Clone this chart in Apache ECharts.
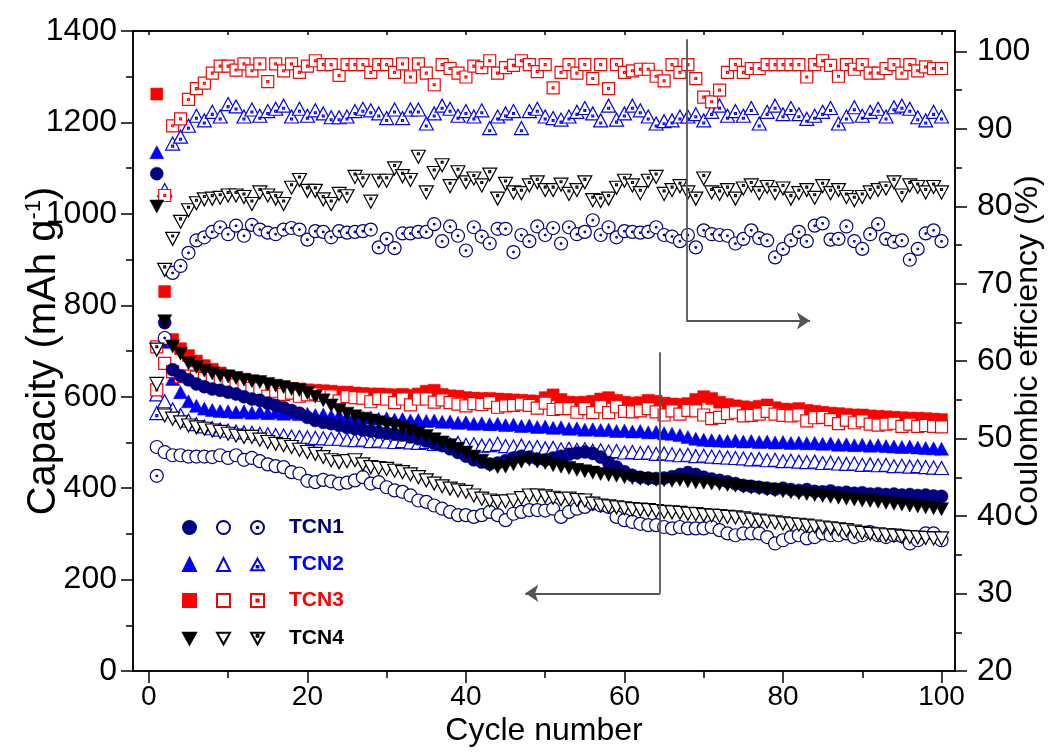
<!DOCTYPE html>
<html><head><meta charset="utf-8">
<script src="https://cdn.jsdelivr.net/npm/echarts@6/dist/echarts.min.js"></script>
<style>html,body{margin:0;padding:0;background:#fff}#c{width:1059px;height:755px}</style>
</head><body><div id="c"></div>
<script>
// ---------- data ----------
const cycles = Array.from({length:100},(_,i)=>i+1);

const TCN1_discharge = [1088,762,659,646,637,628,622,617,614,610,
606,600,595,592,586,581,576,570,564,555,
548,544,541,537,533,530,527,525,522,520,
518,516,512,508,503,498,493,486,478,470,
462,457,453,455,460,466,470,468,464,462,
466,470,474,477,479,476,468,456,446,436,
428,424,422,421,422,425,430,434,430,424,
420,417,414,410,406,404,402,400,398,400,
397,395,397,393,392,394,390,391,389,390,
387,388,386,387,385,386,384,385,383,382];
const TCN1_charge = [490,479,472,472,469,469,469,468,472,466,
472,462,466,459,452,448,446,435,432,416,
413,418,415,410,412,417,424,410,413,402,
395,392,384,373,370,362,355,348,341,341,
337,341,348,341,330,344,348,352,352,351,
355,337,348,355,359,366,362,359,337,330,
326,322,319,319,315,312,315,312,312,312,
315,308,301,297,301,301,301,293,279,286,
293,297,290,293,301,297,297,301,293,297,
304,297,293,297,295,279,286,301,301,286];
const TCN1_ce = [45.2,63.0,71.4,72.3,74.0,75.6,76.0,76.7,77.3,76.4,
77.5,76.2,77.6,77.0,76.6,76.4,77.0,77.2,77.0,75.7,
76.8,76.7,76.0,76.8,76.6,76.7,76.8,77.0,74.7,75.8,
74.6,76.5,76.5,76.7,76.7,77.7,75.5,77.4,76.2,74.3,
77.3,76.1,75.2,77.1,77.1,74.1,76.3,75.5,77.4,76.3,
77.2,75.2,77.3,76.4,76.7,78.2,76.3,77.3,76.0,76.8,
76.7,76.6,76.7,77.3,76.3,76.1,75.5,76.3,74.7,76.9,
76.4,76.3,76.2,75.2,75.8,76.9,75.9,75.6,73.4,74.5,
75.6,76.7,75.5,77.5,77.8,75.7,75.8,77.4,75.5,74.5,
76.4,77.7,75.8,75.4,75.6,73.1,74.5,76.5,76.9,75.5];

const TCN2_discharge = [1135,720,639,610,590,580,574,571,569,568,
566,568,565,567,564,566,563,565,562,563,
560,561,558,559,556,557,554,555,552,553,
550,551,548,549,547,548,545,546,543,544,
541,542,540,541,538,539,536,537,534,535,
532,533,530,531,528,529,527,528,525,526,
524,525,522,523,520,519,516,512,508,506,
505,504,503,504,502,503,501,502,500,501,
499,500,498,499,497,498,495,496,494,495,
493,494,492,491,490,491,489,488,487,486];
const TCN2_charge = [605,590,572,560,548,540,535,531,528,526,
524,522,521,519,518,516,515,513,512,511,
510,509,508,508,506,505,506,503,504,502,
501,503,500,499,501,497,498,496,499,495,
496,493,494,497,492,491,493,489,490,487,
488,485,486,484,485,482,483,480,481,478,
479,477,478,475,476,474,472,473,470,471,
469,468,467,466,465,463,464,461,462,459,
460,458,457,458,455,456,454,453,454,451,
452,450,451,448,449,447,448,446,445,444];
const TCN2_ce = [53.3,82.1,88.1,89.0,90.4,91.7,91.1,92.2,91.6,93.2,
92.9,91.6,92.5,91.7,92.3,92.6,93.0,91.6,92.6,91.7,
92.4,92.0,91.5,91.5,91.6,92.3,92.6,92.4,92.0,91.4,
92.5,91.4,92.5,92.5,90.7,92.0,93.0,92.6,91.7,92.3,
91.6,92.4,90.1,91.6,92.0,92.3,90.1,92.3,92.6,91.6,
91.4,91.2,91.6,92.2,92.7,92.0,91.1,93.0,91.2,92.0,
93.0,92.4,91.6,90.7,91.0,91.1,91.6,91.6,91.9,91.1,
92.2,93.0,91.7,92.3,91.7,92.7,90.7,92.2,93.0,91.9,
92.7,91.9,91.3,91.7,92.2,92.7,90.7,91.6,92.8,91.7,
92.2,92.6,91.6,92.8,93.0,92.6,91.5,91.1,92.2,91.6];

const TCN3_discharge = [1262,830,725,705,690,678,668,660,652,646,
640,636,632,628,625,622,620,618,617,615,
614,613,612,610,610,608,607,606,606,605,
604,605,603,606,612,614,605,602,601,598,
597,596,596,595,594,593,592,591,590,598,
604,594,588,587,588,590,595,598,592,588,
586,587,592,590,586,584,583,585,594,600,
596,588,583,580,578,576,579,582,576,573,
572,574,570,568,566,564,563,561,560,560,
558,557,556,555,554,553,553,552,551,550];
const TCN3_charge = [709,673,655,644,645,643,640,640,638,634,
626,624,618,617,601,612,605,608,601,604,
606,603,602,591,600,598,597,589,596,595,
587,595,582,595,595,588,593,587,584,580,
585,583,587,577,580,581,584,581,575,586,
572,574,574,566,574,565,578,565,578,568,
567,569,574,567,560,569,562,570,569,560,
552,555,563,566,558,559,562,568,562,559,
558,560,547,554,555,550,541,549,543,547,
540,538,540,542,535,540,535,537,535,534];
const TCN3_ce = [56.3,81.4,90.4,91.3,93.8,95.2,95.9,97.2,98.1,98.1,
97.6,98.4,97.5,98.4,96.1,98.4,97.5,98.4,97.3,98.1,
98.8,98.3,98.3,96.9,98.3,98.3,98.3,97.3,98.3,98.3,
97.3,98.4,96.7,98.4,97.2,95.7,98.3,97.8,97.2,96.7,
98.1,97.9,98.8,97.2,97.9,98.2,98.8,98.3,97.4,98.3,
95.3,97.3,98.3,97.2,98.3,96.5,98.3,95.2,98.3,97.3,
97.5,97.7,97.7,96.8,96.2,98.3,97.3,98.3,96.5,94.1,
93.5,95.0,97.3,98.3,97.3,97.8,97.8,98.3,98.3,98.3,
98.3,98.3,96.7,98.3,98.8,98.2,96.8,98.3,97.7,98.3,
97.2,97.2,97.8,98.3,97.2,98.3,97.5,98.0,97.8,97.8];

const TCN4_discharge = [1016,765,710,694,673,665,657,651,646,644,
641,637,634,632,628,624,621,617,614,608,
600,592,581,571,563,557,552,548,544,540,
536,532,526,520,514,507,500,494,486,478,
469,460,450,446,447,452,458,462,458,455,
450,447,444,440,437,434,431,429,427,424,
422,420,419,418,417,416,418,415,413,412,
410,409,407,405,403,401,399,397,395,393,
391,389,387,385,383,381,379,377,375,373,
372,370,368,366,364,362,360,358,356,354];
const TCN4_charge = [628,559,552,544,537,533,530,526,523,519,
515,512,512,506,501,497,494,490,484,479,
475,468,461,457,459,461,452,446,444,442,
438,435,430,424,417,410,404,399,395,392,
384,377,373,370,371,373,378,384,384,382,
379,376,377,374,373,366,362,360,358,356,
354,353,352,350,348,347,346,344,343,341,
340,339,337,336,334,331,329,327,325,323,
321,320,318,316,314,312,310,308,305,302,
300,299,297,296,294,293,292,291,290,290];
const TCN4_ce = [61.5,71.8,75.8,78.0,79.5,80.4,80.9,81.0,81.1,81.4,
81.4,81.2,80.3,81.8,81.4,81.0,80.3,82.4,83.4,82.0,
82.0,80.9,80.3,81.6,81.3,83.8,83.3,80.6,83.3,83.3,
84.9,83.9,83.4,86.4,81.8,84.3,85.3,82.6,84.4,83.1,
83.6,82.7,84.1,81.0,82.9,81.8,81.7,82.7,83.1,82.1,
82.1,82.8,81.6,82.1,83.1,80.8,80.7,81.0,82.4,83.3,
82.7,81.7,83.3,83.8,81.6,82.1,82.6,81.8,81.0,83.6,
81.8,81.6,82.1,81.0,82.3,82.7,81.7,82.5,81.7,82.3,
81.0,81.7,82.1,81.1,82.6,81.7,82.1,81.2,80.8,81.2,
81.8,82.1,82.3,83.1,81.4,82.7,82.5,81.8,82.5,81.8];

const xTickLabels = [0,20,40,60,80,100];
const xMinorTicks = [10,30,50,70,90];
const xTopTicks = [0,10,20,30,40,50,60,70,80,90,100];
const rightTickLabels = [20,30,40,50,60,70,80,90,100];
const rightMinorTicks = [25,35,45,55,65,75,85,95];
// annotation arrows, in data coordinates (cycle, capacity): vertical stem, then arrow leg
const arrowToCE  = [[67.8,1382],[67.8,766],[83.4,766]];
const arrowToCap = [[64.5,697],[64.5,170],[47.5,170]];

// ---------- styling ----------
const COLORS = {TCN1:'#000080', TCN2:'#0000ff', TCN3:'#ff0000', TCN4:'#000000'};
const DOWN = 'path://M-10,-8L10,-8L0,10Z';
const CIRC_DOT = 'path://M0,-10A10,10,0,1,1,0,10A10,10,0,1,1,0,-10ZM0,-1.3A1.3,1.3,0,1,1,0,1.3A1.3,1.3,0,1,1,0,-1.3Z';
const TRI_DOT = 'path://M0,-10L10,8L-10,8ZM-1.3,1.2h2.6v2.6h-2.6Z';
const RECT_DOT = 'path://M-10,-10h20v20h-20ZM-1.6,-1.6h3.2v3.2h-3.2Z';
const DOWN_DOT = 'path://M-10,-8L10,-8L0,10ZM-1.3,-4.4h2.6v2.6h-2.6Z';

const groups = [
  {key:'TCN2', dis:TCN2_discharge, chg:TCN2_charge, ce:TCN2_ce, s:['triangle','triangle',TRI_DOT], size:[[14,13],[14,13],[14,13]]},
  {key:'TCN3', dis:TCN3_discharge, chg:TCN3_charge, ce:TCN3_ce, s:['rect','rect',RECT_DOT], size:[12,12,12]},
  {key:'TCN1', dis:TCN1_discharge, chg:TCN1_charge, ce:TCN1_ce, s:['circle','circle',CIRC_DOT], size:[13,13,13]},
  {key:'TCN4', dis:TCN4_discharge, chg:TCN4_charge, ce:TCN4_ce, s:[DOWN,DOWN,DOWN_DOT], size:[[14,13],[14,13],[14,13]]}
];

const series = [];
groups.forEach(g=>{
  const c = COLORS[g.key];
  const parts = [['discharge', g.dis, 0, true], ['charge', g.chg, 0, false], ['CE', g.ce, 1, false]];
  parts.forEach((p,i)=>{
    series.push({
      type:'scatter', name: g.key+' '+p[0], xAxisIndex:0, yAxisIndex:p[2],
      data: cycles.map((cy,k)=>[cy, p[1][k]]),
      symbol: g.s[i], symbolSize: g.size[i],
      itemStyle: p[3] ? {color:c, borderColor:c, borderWidth:0.5, opacity:1}
                      : {color:'#ffffff', borderColor:c, borderWidth:1.2, opacity:1},
      silent:true
    });
  });
});
[arrowToCE, arrowToCap].forEach(a=>{
  series.push({
    type:'lines', coordinateSystem:'cartesian2d', xAxisIndex:0, yAxisIndex:0,
    data:[{coords:[a[0],a[1]]}], symbol:['none','none'], silent:true,
    lineStyle:{color:'#555555', width:1.8, opacity:1}, z:10
  });
  series.push({
    type:'lines', coordinateSystem:'cartesian2d', xAxisIndex:0, yAxisIndex:0,
    data:[{coords:[a[1],a[2]]}], symbol:['none','arrow'], symbolSize:[1,13], silent:true,
    lineStyle:{color:'#555555', width:1.8, opacity:1}, itemStyle:{color:'#000'}, z:10
  });
});

const legendOrder = ['TCN1','TCN2','TCN3','TCN4'];
const legendTops = [512, 549, 585, 623];
const legends = legendOrder.map((k,i)=>({
  left:177, top:legendTops[i], orient:'horizontal', itemWidth:13, itemHeight:13, itemGap:19,
  selectedMode:false,
  data:[{name:k+' discharge'},{name:k+' charge'},
        {name:k+' CE', textStyle:{color:COLORS[k], fontSize:21, fontWeight:'bold', fontFamily:'Liberation Sans', padding:[0,0,0,20]}}],
  formatter: n => n.endsWith(' CE') ? n.replace(' CE','') : '',
  textStyle:{color:COLORS[k], fontSize:21, fontWeight:'bold', fontFamily:'Liberation Sans'}
}));

const FONT = '"Liberation Sans", Arial, sans-serif';
const axisLineStyle = {color:'#000', width:1.5};
const labelFont = {color:'#000', fontSize:32, fontFamily:FONT};
const xLabelFont = {color:'#000', fontSize:28, fontFamily:FONT};
const X_MIN = -2, X_MAX = 101.7;
const R_MIN = 20, R_MAX = 102.64;

const option = {
  animation:false,
  backgroundColor:'#fff',
  grid:{left:133, right:104, top:31, bottom:84, show:true, borderColor:'#000', borderWidth:1.5,
        containLabel:false, outerBoundsMode:'none'},
  legend: legends,
  xAxis:[
    {type:'value', position:'bottom', min:X_MIN, max:X_MAX,
     axisLine:{show:true, onZero:false, lineStyle:axisLineStyle},
     axisTick:{show:true, customValues:xTickLabels, length:12, lineStyle:axisLineStyle},
     axisLabel:{customValues:xTickLabels, margin:12, ...xLabelFont},
     splitLine:{show:false},
     name:'Cycle number', nameLocation:'middle', nameGap:44, nameMoveOverlap:false,
     nameTextStyle:{color:'#000', fontSize:32, fontFamily:FONT}},
    {type:'value', position:'bottom', min:X_MIN, max:X_MAX,
     axisLine:{show:false, onZero:false},
     axisTick:{show:true, customValues:xMinorTicks, length:7, lineStyle:axisLineStyle},
     axisLabel:{show:false}, splitLine:{show:false}},
    {type:'value', position:'top', min:X_MIN, max:X_MAX,
     axisLine:{show:true, onZero:false, lineStyle:axisLineStyle},
     axisTick:{show:true, inside:true, customValues:xTopTicks, length:4, lineStyle:axisLineStyle},
     axisLabel:{show:false}, splitLine:{show:false}}
  ],
  yAxis:[
    {type:'value', position:'left', min:0, max:1400, interval:200,
     axisLine:{show:true, onZero:false, lineStyle:axisLineStyle},
     axisTick:{show:true, length:12, lineStyle:axisLineStyle},
     minorTick:{show:true, splitNumber:2, length:7, lineStyle:axisLineStyle},
     axisLabel:{margin:16, formatter:v=>String(v), ...labelFont},
     splitLine:{show:false}, minorSplitLine:{show:false},
     name:'Capacity (mAh g{sup|-1})', nameLocation:'middle', nameRotate:90, nameGap:68, nameMoveOverlap:false,
     nameTextStyle:{color:'#000', fontSize:40, fontFamily:FONT,
       rich:{sup:{fontSize:22, fontFamily:FONT, color:'#000', verticalAlign:'top', padding:[0,0,20,0]}}}},
    {type:'value', position:'right', min:R_MIN, max:R_MAX,
     axisLine:{show:true, onZero:false, lineStyle:axisLineStyle},
     axisTick:{show:true, customValues:rightTickLabels, length:12, lineStyle:axisLineStyle},
     axisLabel:{customValues:rightTickLabels, margin:22, ...labelFont},
     splitLine:{show:false},
     name:'Coulombic efficiency (%)', nameLocation:'middle', nameRotate:90, nameGap:57, nameMoveOverlap:false,
     nameTextStyle:{color:'#000', fontSize:32, fontFamily:FONT}},
    {type:'value', position:'right', min:R_MIN, max:R_MAX,
     axisLine:{show:false, onZero:false},
     axisTick:{show:true, customValues:rightMinorTicks, length:7, lineStyle:axisLineStyle},
     axisLabel:{show:false}, splitLine:{show:false}}
  ],
  series: series
};
const chart = echarts.init(document.getElementById('c'), null, {renderer:'canvas'});
chart.setOption(option);
</script></body></html>
